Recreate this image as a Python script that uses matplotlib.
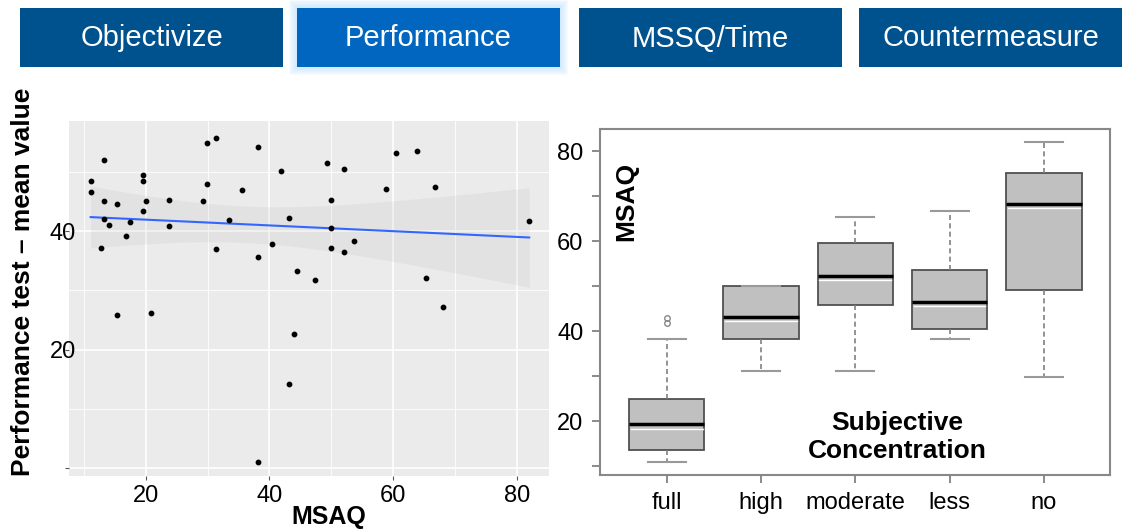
import numpy as np
import matplotlib
matplotlib.use("Agg")
import matplotlib.pyplot as plt
from matplotlib.patches import Rectangle

plt.rcParams['font.family'] = ['Liberation Sans', 'DejaVu Sans']

# header tabs
tab_names = ["Objectivize", "Performance", "MSSQ/Time", "Countermeasure"]
active_tab = "Performance"

# scatter: MSAQ vs performance test mean value
msaq = [11.1, 11.1, 13.2, 13.2, 13.2, 12.7, 14.0, 15.3, 15.3, 16.8,
        17.5, 19.5, 19.5, 19.5, 20.1, 20.8, 23.7, 23.7, 29.2, 29.9,
        29.9, 31.3, 31.3, 33.4, 35.5, 38.2, 38.2, 38.2, 40.4, 41.8,
        43.1, 43.1, 43.9, 44.4, 47.3, 49.3, 50.0, 50.0, 50.0, 52.0,
        52.0, 53.6, 58.9, 60.4, 63.8, 65.3, 66.7, 68.1, 82.0]
perf = [48.4, 46.5, 52.0, 45.0, 42.0, 37.2, 41.1, 44.5, 25.8, 39.2,
        41.5, 49.5, 48.5, 43.3, 45.0, 26.2, 45.3, 40.8, 45.1, 54.8,
        47.9, 55.7, 37.0, 41.9, 46.9, 54.2, 35.6, 1.1, 37.8, 50.1,
        42.2, 14.2, 22.7, 33.3, 31.7, 51.5, 45.3, 40.5, 37.2, 50.4,
        36.4, 38.4, 47.1, 53.2, 53.5, 32.1, 47.5, 27.2, 41.7]

# boxplot: MSAQ by subjective concentration
groups = ["full", "high", "moderate", "less", "no"]
q1 = [13.7, 38.2, 45.8, 40.5, 49.1]
med = [19.3, 43.1, 52.2, 46.5, 68.2]
q3 = [24.9, 50.1, 59.7, 53.6, 75.2]
whis_lo = [11.0, 31.2, 31.2, 38.2, 29.9]
whis_hi = [38.2, 50.1, 65.4, 66.8, 82.0]
outliers = [[41.8, 42.9], [], [], [], []]

fig = plt.figure(figsize=(11.22, 5.29), dpi=100)
W, H = 1122, 529

def fx(px):
    return px / W

def fy(py):
    return 1 - py / H

# tabs on top
tab_x = [(20, 283), (297, 560), (579, 842), (859, 1122)]
for name, (x0, x1) in zip(tab_names, tab_x):
    if name == active_tab:
        for g in range(8, 0, -1):
            fig.add_artist(Rectangle((fx(x0 - g), fy(66.5 + g)), fx(x1 - x0 + 2 * g),
                                     (59 + 2 * g) / H, transform=fig.transFigure,
                                     color="#bfe3ff", alpha=0.12, lw=0))
        col = "#0066bf"
    else:
        col = "#00528f"
    fig.add_artist(Rectangle((fx(x0), fy(66.5)), fx(x1 - x0), 59 / H,
                             transform=fig.transFigure, color=col, lw=0))
    fig.text(fx((x0 + x1) / 2), fy(38.5), name, color="white", fontsize=21,
             ha="center", va="center")

# left panel - ggplot-like scatter with lm fit
ax1 = fig.add_axes([fx(69), fy(476), fx(480), (476 - 120.7) / H])
ax1.set_facecolor("#ebebeb")
for s in ax1.spines.values():
    s.set_visible(False)
ax1.set_xlim(7.6, 85.2)
ax1.set_ylim(-1.3, 58.6)
ax1.set_xticks([20, 40, 60, 80])
ax1.set_xticks([10, 30, 50, 70], minor=True)
ax1.set_yticks([0, 20, 40])
ax1.set_yticklabels(["", "20", "40"])
ax1.set_yticks([10, 30, 50], minor=True)
ax1.grid(True, which="major", color="white", lw=1.2)
ax1.grid(True, which="minor", color="white", lw=0.6)
ax1.set_axisbelow(True)
ax1.tick_params(which="major", labelsize=17, color="#555555", length=3)
ax1.tick_params(axis="y", which="major", pad=-8)
ax1.tick_params(which="minor", length=0)

x = np.array(msaq)
y = np.array(perf)
slope, icpt = np.polyfit(x, y, 1)
xs = np.linspace(x.min(), x.max(), 100)
ys = icpt + slope * xs
resid = y - (icpt + slope * x)
n = len(x)
s_err = np.sqrt(np.sum(resid ** 2) / (n - 2))
se = s_err * np.sqrt(1 / n + (xs - x.mean()) ** 2 / np.sum((x - x.mean()) ** 2))
t_val = 2.012
ax1.fill_between(xs, ys - t_val * se, ys + t_val * se, color="#aaaaaa", alpha=0.13, lw=0)
ax1.plot(xs, ys, color="#3366ff", lw=1.5)
ax1.scatter(x, y, s=10, color="black", zorder=3)

fig.text(fx(23), fy(282), "Performance test \u2013 mean value", rotation=90,
         fontsize=19, fontweight="bold", ha="center", va="center")
fig.text(fx(329), fy(517), "MSAQ", fontsize=18, fontweight="bold",
         ha="center", va="center")

# right panel - base R style boxplot
ax2 = fig.add_axes([fx(600), fy(475), fx(510), 346 / H])
stats = []
for i, g in enumerate(groups):
    stats.append(dict(label=g, med=med[i], q1=q1[i], q3=q3[i],
                      whislo=whis_lo[i], whishi=whis_hi[i], fliers=outliers[i]))
ax2.bxp(stats, widths=0.8, capwidths=0.4, patch_artist=True,
        boxprops=dict(facecolor="#c0c0c0", edgecolor="#505050", lw=1.3),
        medianprops=dict(color="black", lw=2.5),
        whiskerprops=dict(color="#808080", lw=1.2, ls=(0, (3, 2))),
        capprops=dict(color="#999999", lw=1.5),
        flierprops=dict(marker="o", markerfacecolor="none",
                        markeredgecolor="#888888", markersize=4))
# light line under each median, as in the original image
for i in range(len(groups)):
    ax2.plot([i + 0.62, i + 1.38], [med[i] - 0.9] * 2, color="white", lw=1)

ax2.set_xlim(0.293, 5.70)
ax2.set_ylim(8.07, 84.96)
ax2.set_yticks([10, 20, 30, 40, 50, 60, 70, 80])
ax2.set_yticklabels(["", "20", "", "40", "", "60", "", "80"])
ax2.tick_params(labelsize=17, color="#777777", length=6, width=1.2, pad=6)
for s in ax2.spines.values():
    s.set_color("#888888")
    s.set_linewidth(1.5)

ax2.text(0.051, 0.79, "MSAQ", transform=ax2.transAxes, rotation=90,
         fontsize=19, fontweight="bold", ha="center", va="center")
ax2.text(0.582, 0.11, "Subjective\nConcentration", transform=ax2.transAxes,
         fontsize=19, fontweight="bold", ha="center", va="center", linespacing=1.25)

fig.savefig("out.png", dpi=100)
